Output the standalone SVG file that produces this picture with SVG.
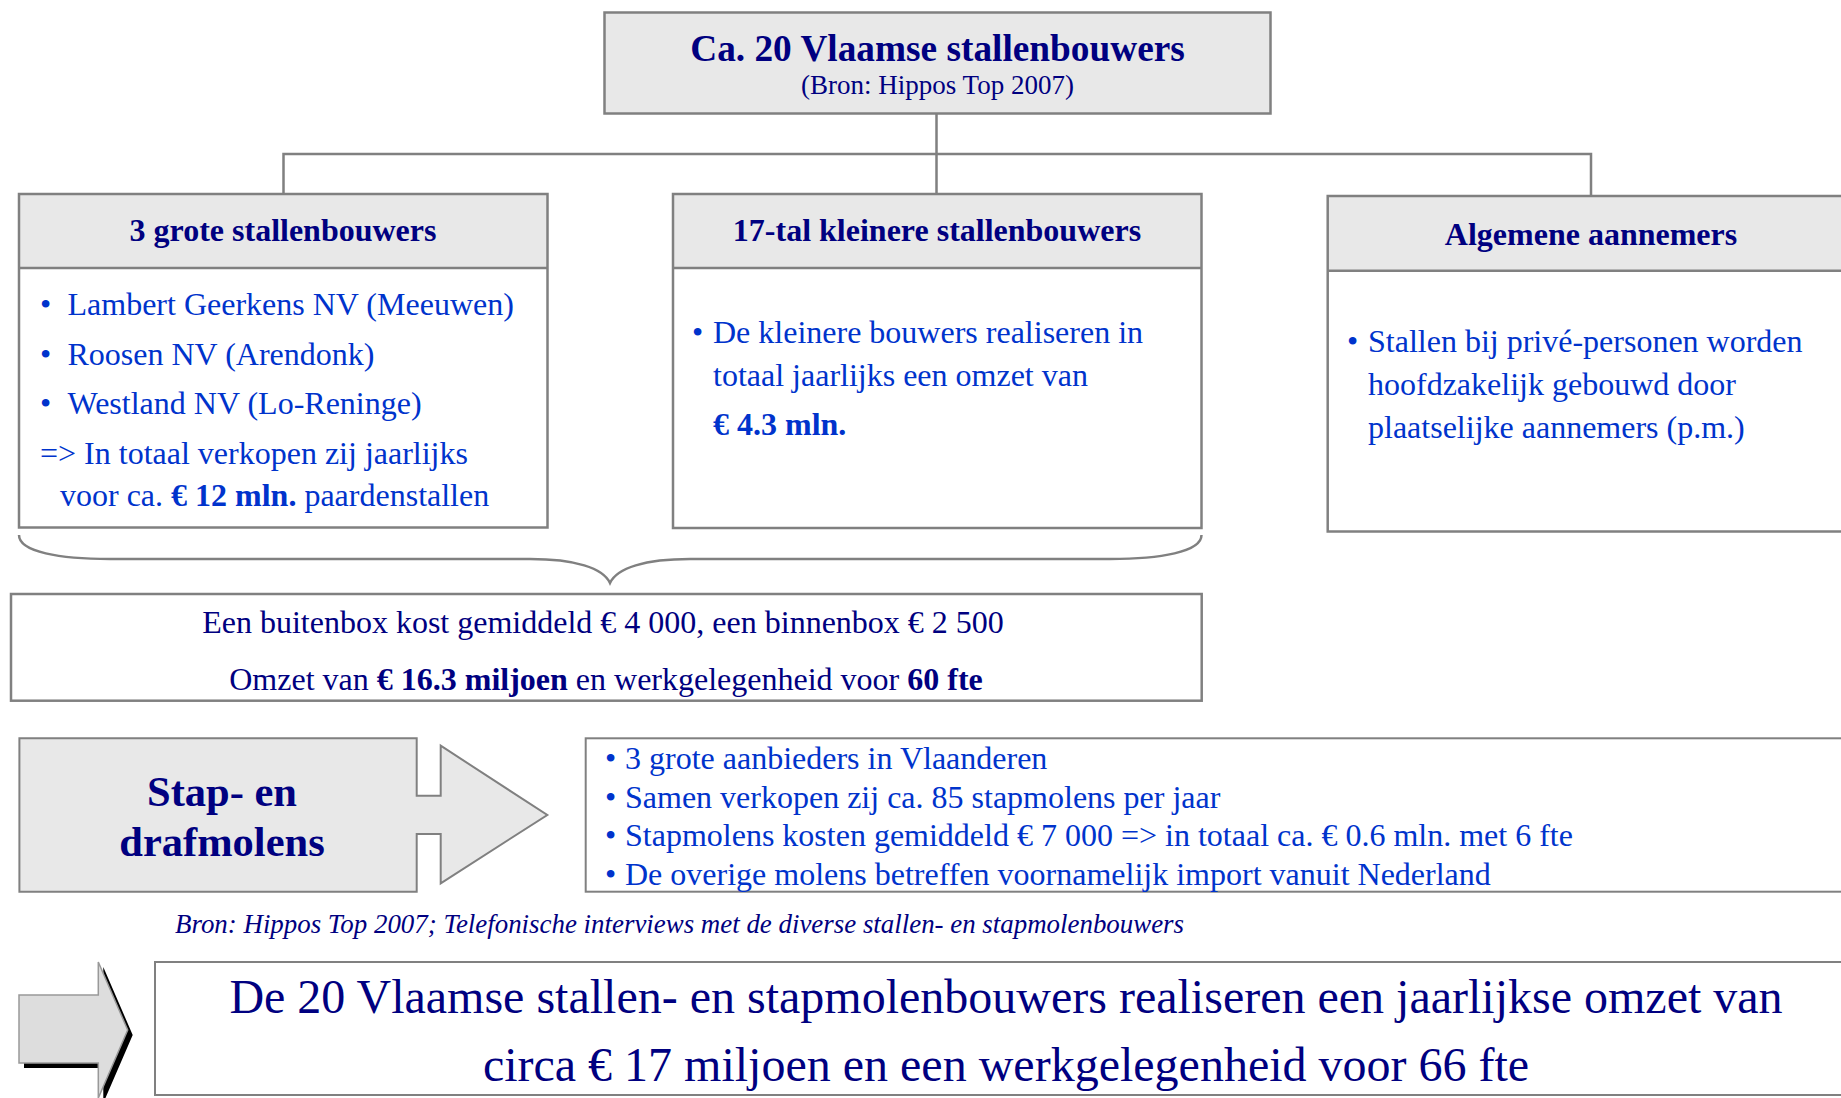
<svg xmlns="http://www.w3.org/2000/svg" width="1841" height="1098" viewBox="0 0 1841 1098">
<style>
.box{fill:#fff;stroke:#808080;stroke-width:2.5}
.hdr{fill:#e8e8e8;stroke:none}
.ln{fill:none;stroke:#808080;stroke-width:2.5}
.t{font-family:"Liberation Serif","Times New Roman",serif}
.navy{fill:#000080}
.blue{fill:#0033cc}
.b{font-weight:bold}
.s32{font-size:32px}
</style>
<rect width="1841" height="1098" fill="#ffffff"/>
<g id="connectors">
<path class="ln" d="M936.5,114 V154 M283.5,194 V154 H1591 V196 M936.5,154 V194"/>
<path class="ln" d="M19,535 C19,552 60,559 110,559 L530,559 C575,559 603,568 610,583 C617,568 645,559 690,559 L1110,559 C1160,559 1201.5,552 1201.5,535"/>
</g>
<g id="top">
<rect x="604.5" y="12.5" width="666" height="101" fill="#e8e8e8" stroke="#808080" stroke-width="2.5"/>
<text class="t navy b" x="937.5" y="61" font-size="37.3" text-anchor="middle">Ca. 20 Vlaamse stallenbouwers</text>
<text class="t navy" x="937.5" y="94" font-size="27" text-anchor="middle">(Bron: Hippos Top 2007)</text>
</g>
<g id="grote">
<rect class="hdr" x="19" y="194" width="528.5" height="74"/>
<rect class="box" x="19" y="194" width="528.5" height="333.5" style="fill:none"/>
<line class="ln" x1="19" y1="268" x2="547.5" y2="268"/>
<text class="t navy b s32" x="283" y="241" text-anchor="middle">3 grote stallenbouwers</text>
<g class="t blue s32">
<text x="40" y="315">•</text><text x="67.5" y="315">Lambert Geerkens NV (Meeuwen)</text>
<text x="40" y="365">•</text><text x="67.5" y="365">Roosen NV (Arendonk)</text>
<text x="40" y="414">•</text><text x="67.5" y="414">Westland NV (Lo-Reninge)</text>
<text x="40" y="464">=&gt; In totaal verkopen zij jaarlijks</text>
<text x="60" y="506">voor ca. <tspan class="b">€ 12 mln.</tspan> paardenstallen</text>
</g>
</g>
<g id="kleinere">
<rect class="hdr" x="673" y="194" width="528.5" height="74"/>
<rect class="box" x="673" y="194" width="528.5" height="334" style="fill:none"/>
<line class="ln" x1="673" y1="268" x2="1201.5" y2="268"/>
<text class="t navy b s32" x="937" y="241" text-anchor="middle">17-tal kleinere stallenbouwers</text>
<g class="t blue s32">
<text x="692" y="343">•</text><text x="713" y="343">De kleinere bouwers realiseren in</text>
<text x="713" y="386">totaal jaarlijks een omzet van</text>
<text class="b" x="713" y="435">€ 4.3 mln.</text>
</g>
</g>
<g id="algemene">
<rect class="hdr" x="1327.7" y="196" width="540" height="74.7"/>
<rect class="box" x="1327.7" y="196" width="540" height="335.5" style="fill:none"/>
<line class="ln" x1="1327.7" y1="270.7" x2="1841" y2="270.7"/>
<text class="t navy b s32" x="1591" y="245" text-anchor="middle">Algemene aannemers</text>
<g class="t blue s32">
<text x="1347" y="352">•</text><text x="1368" y="352">Stallen bij privé-personen worden</text>
<text x="1368" y="395">hoofdzakelijk gebouwd door</text>
<text x="1368" y="438">plaatselijke aannemers (p.m.)</text>
</g>
</g>
<g id="omzet">
<rect class="box" x="11" y="594" width="1190.7" height="106.7"/>
<text class="t navy s32" x="603" y="633" text-anchor="middle">Een buitenbox kost gemiddeld € 4 000, een binnenbox € 2 500</text>
<text class="t navy s32" x="606" y="690" text-anchor="middle">Omzet van <tspan class="b">€ 16.3 miljoen</tspan> en werkgelegenheid voor <tspan class="b">60 fte</tspan></text>
</g>
<g id="stapmolens">
<path d="M19.4,738.3 H416.7 V795.7 H440.7 V745.7 L547.3,815 L440.7,883.3 V834 H416.7 V891.7 H19.4 Z" fill="#e8e8e8" stroke="#808080" stroke-width="2"/>
<text class="t navy b" x="222" y="806" font-size="42.5" text-anchor="middle">Stap- en</text>
<text class="t navy b" x="222" y="856" font-size="42.5" text-anchor="middle">drafmolens</text>
</g>
<g id="stapinfo">
<rect x="585.7" y="738.3" width="1300" height="153.4" fill="#fff" stroke="#808080" stroke-width="2"/>
<g class="t blue s32">
<text x="605" y="768.6">•</text><text x="625" y="768.6">3 grote aanbieders in Vlaanderen</text>
<text x="605" y="808">•</text><text x="625" y="808">Samen verkopen zij ca. 85 stapmolens per jaar</text>
<text x="605" y="846.4">•</text><text x="625" y="846.4">Stapmolens kosten gemiddeld € 7 000 =&gt; in totaal ca. € 0.6 mln. met 6 fte</text>
<text x="605" y="884.6">•</text><text x="625" y="884.6">De overige molens betreffen voornamelijk import vanuit Nederland</text>
</g>
</g>
<g id="bron">
<text class="t navy" x="175" y="933" font-size="26.9" font-style="italic">Bron: Hippos Top 2007; Telefonische interviews met de diverse stallen- en stapmolenbouwers</text>
</g>
<g id="arrow">
<path d="M19,995 H98.3 V962 L127.7,1030 L98.3,1098 V1063 H19 Z" fill="#000" transform="translate(5,5)"/>
<path d="M19,995 H98.3 V962 L127.7,1030 L98.3,1098 V1063 H19 Z" fill="#dddddd" stroke="#999999" stroke-width="1.5"/>
</g>
<g id="conclusie">
<rect x="155" y="962" width="1710" height="133" fill="#fff" stroke="#808080" stroke-width="2"/>
<text class="t navy" x="1006" y="1013" font-size="48" text-anchor="middle">De 20 Vlaamse stallen- en stapmolenbouwers realiseren een jaarlijkse omzet van</text>
<text class="t navy" x="1006" y="1081" font-size="48" text-anchor="middle">circa € 17 miljoen en een werkgelegenheid voor 66 fte</text>
</g>
</svg>
